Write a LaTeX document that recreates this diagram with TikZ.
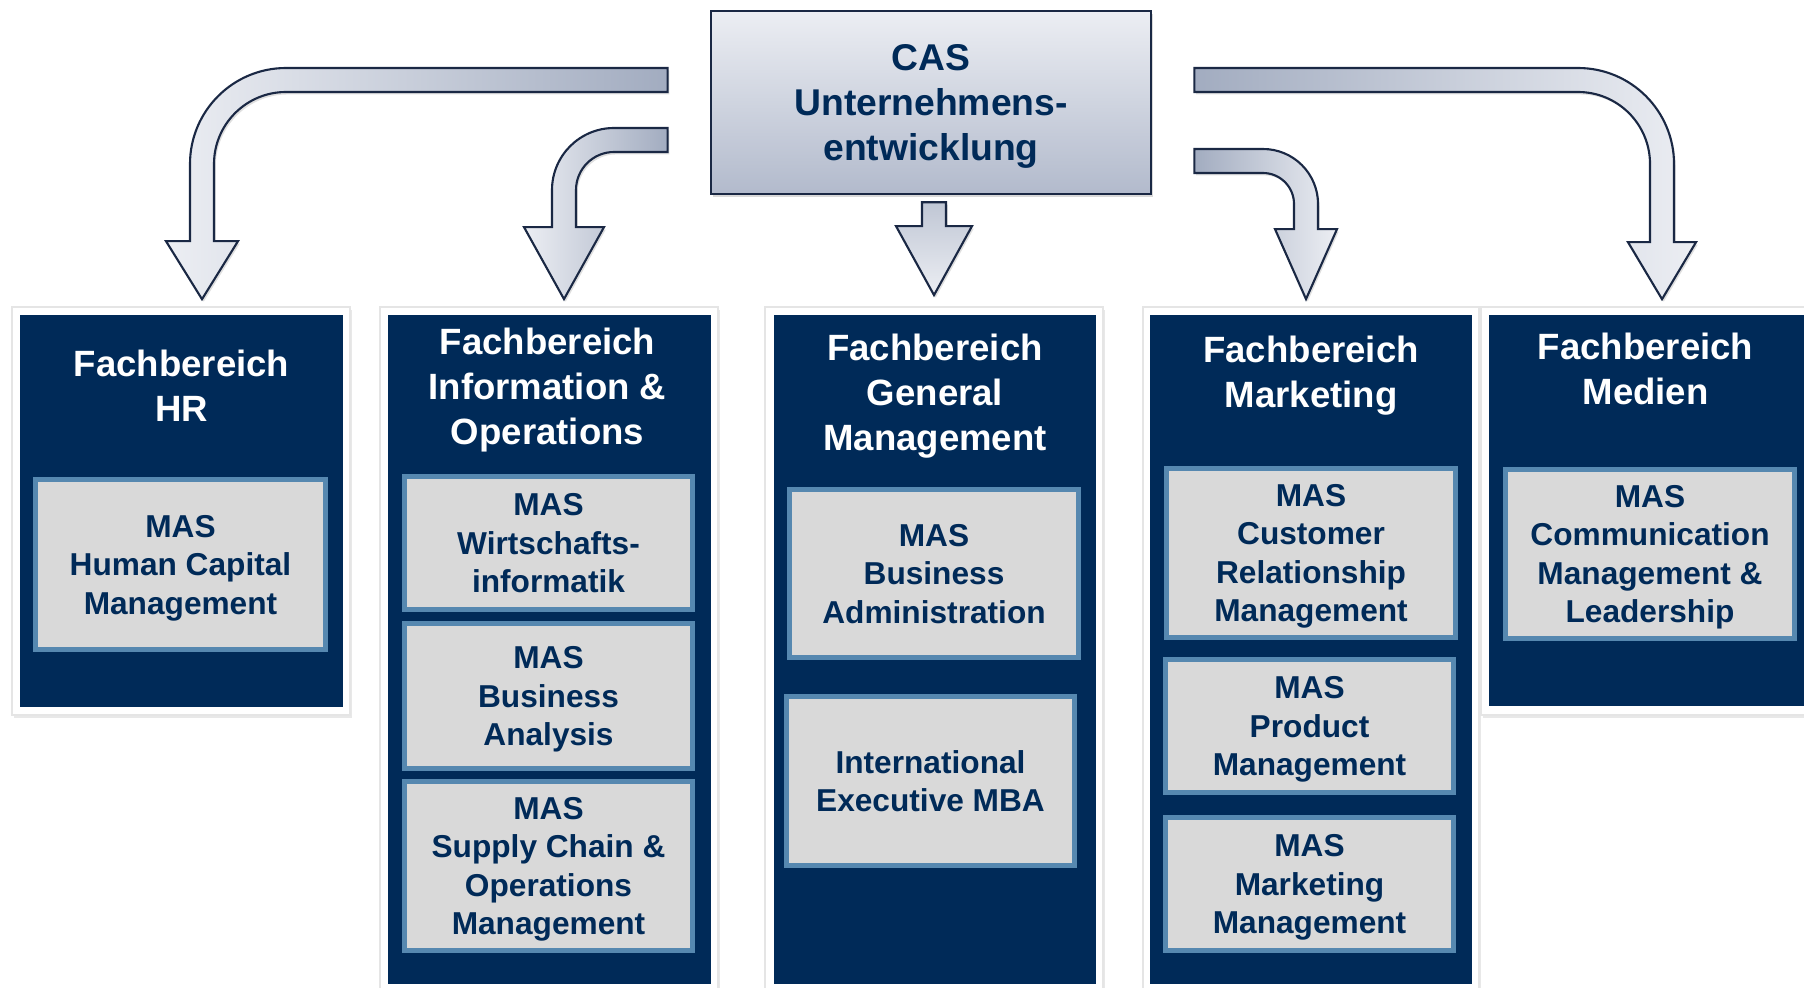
\documentclass[tikz,border=0pt]{standalone}
\usepackage{fontspec}
\setmainfont{Liberation Sans}
\usetikzlibrary{calc, shadows}

\definecolor{navy}{RGB}{0,42,88}
\definecolor{steel}{RGB}{86,136,176}
\definecolor{boxgrey}{RGB}{217,217,217}
\definecolor{arrowline}{RGB}{26,40,68}
\definecolor{arrowlight}{RGB}{236,238,243}
\definecolor{arrowdark}{RGB}{162,172,192}
\definecolor{castop}{RGB}{236,238,243}
\definecolor{casbottom}{RGB}{178,186,204}

\tikzset{
	card/.style = {fill=white, draw=black!10, line width=0.5pt, drop shadow={opacity=0.18, shadow xshift=0.5pt, shadow yshift=-0.8pt}},
	panel/.style = {fill=navy, inner sep=0pt},
	fbhead/.style = {text=white, font=\fontsize{10.4}{12.8}\selectfont\bfseries, align=center, anchor=north, inner sep=0pt},
	mas/.style = {fill=boxgrey, draw=steel, line width=1.4pt, text=navy, font=\fontsize{9}{10.95}\selectfont\bfseries, align=center, text depth=0pt, minimum width=2.89cm},
	cas/.style = {top color=castop, bottom color=casbottom, draw=arrowline, line width=0.7pt, minimum width=4.40cm, minimum height=1.83cm, text=navy, font=\fontsize{10.6}{12.8}\selectfont\bfseries, align=center, text depth=0pt, drop shadow={opacity=0.3, shadow xshift=0.6pt, shadow yshift=-0.8pt}},
	blockarrow/.style = {draw=arrowline, line width=0.6pt, drop shadow={opacity=0.25, shadow xshift=0.5pt, shadow yshift=-0.7pt}},
	larrow/.style = {blockarrow, left color=arrowlight, right color=arrowdark},
	rarrow/.style = {blockarrow, left color=arrowdark, right color=arrowlight},
	marrow/.style = {blockarrow, top color=arrowdark!60!arrowlight, bottom color=arrowlight}
}

% #1 start, #2 tip, #3 bend radius, #4 half head, #5 head length, #6 side (1 left, -1 right), #7 style
\newcommand{\bentarrow}[7]{%
	\draw[#7] ($(#1)+(0,12)$) -- ($(#1 -| #2)+({#6*#3},12)$)
		arc[start angle=90, end angle={90+90*#6}, radius={(#3+12)*0.01cm}]
		-- ($(#2)+({(-1)*(#6)*12},#5)$) -- ($(#2)+({(-1)*(#6)*#4},#5)$) -- (#2)
		-- ($(#2)+({#6*#4},#5)$) -- ($(#2)+({#6*12},#5)$)
		-- ($(#1 -| #2)+({#6*12},{-#3})$)
		arc[start angle={90+90*#6}, end angle=90, radius={(#3-12)*0.01cm}]
		-- ($(#1)+(0,-12)$) -- cycle;
}

\begin{document}
\begin{tikzpicture}[x=0.01cm, y=0.01cm]
	\useasboundingbox (0,0) rectangle (1804,987);
	
	% white cards
	\draw[card] (12,272) rectangle (350,680);
	\draw[card] (380,-20) rectangle (718,680);
	\draw[card] (765,-20) rectangle (1103,680);
	\draw[card] (1143,-20) rectangle (1479,680);
	\draw[card] (1481,272) rectangle (1840,680);
	
	% columns
	\node[panel, minimum width=3.23cm, minimum height=3.92cm] (hr) at (181.5,476) {};
	\node[panel, minimum width=3.23cm, minimum height=6.69cm] (io) at (549.5,337.5) {};
	\node[panel, minimum width=3.22cm, minimum height=6.69cm] (gm) at (935,337.5) {};
	\node[panel, minimum width=3.22cm, minimum height=6.69cm] (mk) at (1311,337.5) {};
	\node[panel, minimum width=3.23cm, minimum height=3.91cm] (md) at (1650.5,476.5) {};
	
	\node[fbhead] (hrhead) at ($(hr.north)+(0,-35)$) {Fachbereich\\HR};
	\node[fbhead] (iohead) at ($(io.north)+(-2,-13)$) {Fachbereich\\Information \&\\Operations};
	\node[fbhead] (gmhead) at ($(gm.north)+(0,-19)$) {Fachbereich\\General\\Management};
	\node[fbhead] (mkhead) at ($(mk.north)+(0,-21)$) {Fachbereich\\Marketing};
	\node[fbhead] (mdhead) at ($(md.north)+(-5,-18)$) {Fachbereich\\Medien};
	
	% programmes
	\node[mas, minimum width=2.90cm, minimum height=1.70cm] (hcm) at (180.5,422.5) {MAS\\Human Capital\\Management};
	\node[mas, minimum width=2.88cm, minimum height=1.33cm] (wi) at (548.5,444) {MAS\\Wirtschafts-\\informatik};
	\node[mas, minimum width=2.88cm, minimum height=1.45cm] (ba) at (548.5,291) {MAS\\Business\\Analysis};
	\node[mas, minimum width=2.88cm, minimum height=1.69cm] (scm) at (548.5,121) {MAS\\Supply Chain \&\\Operations\\Management};
	\node[mas, minimum height=1.68cm] (bad) at (934,413.5) {MAS\\Business\\Administration};
	\node[mas, minimum width=2.88cm, minimum height=1.69cm] (emba) at (930.5,206) {International\\Executive MBA};
	\node[mas, minimum height=1.69cm] (crm) at (1311,434) {MAS\\Customer\\Relationship\\Management};
	\node[mas, minimum width=2.88cm, minimum height=1.33cm] (pm) at (1309.5,261) {MAS\\Product\\Management};
	\node[mas, minimum width=2.88cm, minimum height=1.33cm] (mm) at (1309.5,103) {MAS\\Marketing\\Management};
	\node[mas, minimum height=1.69cm] (cml) at (1650,433) {MAS\\Communication\\Management \&\\Leadership};
	
	% CAS and arrows
	\node[cas] (cas) at (931,884.5) {CAS\\Unternehmens-\\entwicklung};
	
	\coordinate (s1) at ($(cas.west)+(-42,22.5)$);
	\coordinate (s2) at ($(cas.west)+(-42,-37.5)$);
	\coordinate (s3) at ($(cas.south)+(3,-7)$);
	\coordinate (s4) at ($(cas.east)+(42,-58.5)$);
	\coordinate (s5) at ($(cas.east)+(42,22.5)$);
	\coordinate (t1) at ($(hr.north)+(20.5,15)$);
	\coordinate (t2) at ($(io.north)+(14.5,15)$);
	\coordinate (t3) at ($(gm.north)+(-1,19)$);
	\coordinate (t4) at ($(mk.north)+(-5,15)$);
	\coordinate (t5) at ($(md.north)+(11.5,15)$);
	
	\bentarrow{s1}{t1}{84}{36}{58}{1}{larrow}
	\bentarrow{s2}{t2}{50}{40}{72}{1}{larrow}
	\bentarrow{s4}{t4}{43}{31}{70}{-1}{rarrow}
	\bentarrow{s5}{t5}{84}{34}{57}{-1}{rarrow}
	\draw[marrow] ($(s3)+(-12,0)$) -- ($(t3)+(-12,69)$) -- ($(t3)+(-38,69)$) -- (t3) -- ($(t3)+(38,69)$) -- ($(t3)+(12,69)$) -- ($(s3)+(12,0)$) -- cycle;
\end{tikzpicture}
\end{document}
